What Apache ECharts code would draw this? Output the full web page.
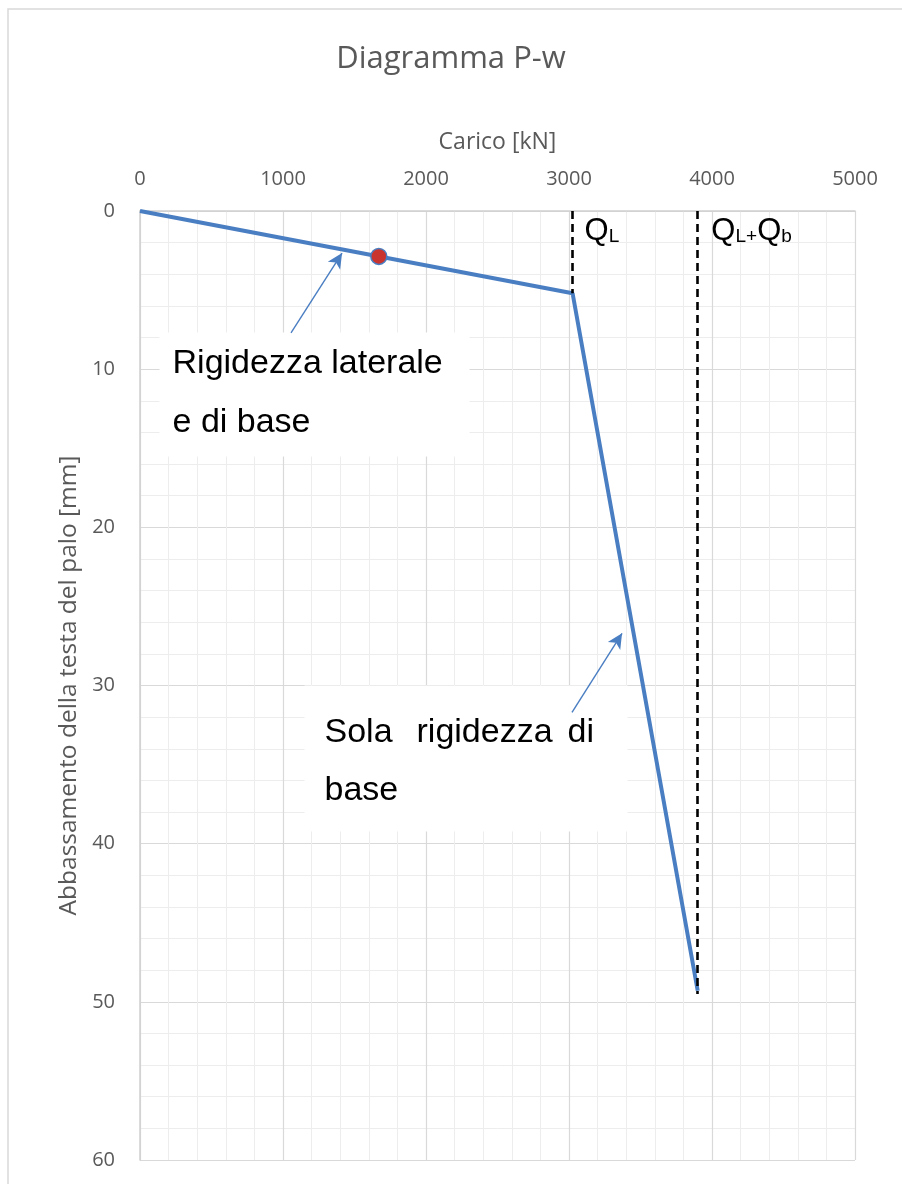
<!DOCTYPE html>
<html><head><meta charset="utf-8">
<script src="https://cdn.jsdelivr.net/npm/echarts@6/dist/echarts.min.js"></script>
<style>html,body{margin:0;padding:0;background:#fff}#c{width:902px;height:1184px}</style>
</head><body><div id="c"></div>
<script>
// ---- data ----
const titleText = 'Diagramma P-w';
const xAxisName = 'Carico [kN]';
const yAxisName = 'Abbassamento della testa del palo [mm]';
const loadKN = [0, 3025, 3900];
const settlementMM = [0, 5.2, 49.3];
const markerLoad = [1670];
const markerSettle = [2.87];
const QL = 3025;
const QLQb = 3900;
const qlLineEnd = 5.2;
const qlqbLineEnd = 49.5;
const arrow1 = [[1056, 7.7], [1413, 2.66]];
const arrow2 = [[3021, 31.7], [3371, 26.7]];
const noteAnchors = [[140, 7.71], [1154, 30.03]];
const qAnchors = [[3112, 1.3], [3999, 1.3]];

const blue = '#4A7EC2';
const axisFont = 'Open Sans';
const textFont = 'Liberation Sans';
const ink = '#000';

const chart = echarts.init(document.getElementById('c'), null, {renderer: 'canvas'});
const lineData = loadKN.map((v, i) => [v, settlementMM[i]]);
const markerData = markerLoad.map((v, i) => [v, markerSettle[i]]);

chart.setOption({
  animation: false,
  backgroundColor: '#fff',
  title: {
    text: titleText, left: 'center', top: 39,
    textStyle: {fontFamily: axisFont, fontSize: 31, fontWeight: 'normal', color: '#595959'}
  },
  graphic: [{
    type: 'rect', shape: {x: 8, y: 9, width: 1000, height: 1300},
    style: {fill: 'none', stroke: '#D9D9D9', lineWidth: 1.5}, silent: true, z: -1
  }],
  grid: {left: 140, right: 47, top: 211, bottom: 24, containLabel: false},
  xAxis: {
    type: 'value', position: 'top', min: 0, max: 5000, interval: 1000,
    name: xAxisName, nameLocation: 'middle', nameGap: 57,
    nameTextStyle: {fontFamily: axisFont, fontSize: 23, color: '#595959'},
    axisLine: {show: true, lineStyle: {color: '#D0D0D0', width: 1.5}},
    axisTick: {show: false},
    axisLabel: {fontFamily: axisFont, fontSize: 20, color: '#595959', margin: 22,
      formatter: v => String(v)},
    splitLine: {show: true, lineStyle: {color: '#D9D9D9', width: 1.2}},
    minorTick: {show: false, splitNumber: 5},
    minorSplitLine: {show: true, lineStyle: {color: '#EDEDED', width: 1}}
  },
  yAxis: {
    type: 'value', inverse: true, min: 0, max: 60, interval: 10,
    name: yAxisName, nameLocation: 'middle', nameGap: 58,
    nameTextStyle: {fontFamily: axisFont, fontSize: 24.5, color: '#595959'},
    axisLine: {show: true, lineStyle: {color: '#D0D0D0', width: 1.5}},
    axisTick: {show: false},
    axisLabel: {fontFamily: axisFont, fontSize: 20, color: '#595959', margin: 25,
      formatter: v => String(v)},
    splitLine: {show: true, lineStyle: {color: '#D9D9D9', width: 1.2}},
    minorTick: {show: false, splitNumber: 5},
    minorSplitLine: {show: true, lineStyle: {color: '#EDEDED', width: 1}}
  },
  series: [
    {
      type: 'scatter', name: 'notes', symbol: 'circle', symbolSize: 1,
      itemStyle: {color: 'rgba(0,0,0,0)', opacity: 1}, silent: true, z: 1,
      data: [
        {value: noteAnchors[0], label: {
          show: true, position: [0, 0], align: 'left', verticalAlign: 'top',
          formatter: 'Rigidezza laterale\ne di base',
          fontFamily: textFont, fontSize: 34, lineHeight: 59, color: ink, opacity: 1,
          backgroundColor: '#fff', padding: [2, 0, 4, 13], width: 297, height: 118
        }},
        {value: noteAnchors[1], label: {
          show: true, position: [0, 0], align: 'left', verticalAlign: 'top',
          formatter: '{a|Sola}{b|rigidezza}{c|di}\n{a|base}',
          backgroundColor: '#fff', padding: [18, 0, 12, 20], width: 303, height: 116, opacity: 1,
          rich: {
            a: {fontFamily: textFont, fontSize: 34, lineHeight: 58, color: ink, width: 92},
            b: {fontFamily: textFont, fontSize: 34, lineHeight: 58, color: ink, width: 151},
            c: {fontFamily: textFont, fontSize: 34, lineHeight: 58, color: ink}
          }
        }},
        {value: qAnchors[0], label: {
          show: true, position: [0, 0], align: 'left', verticalAlign: 'middle', opacity: 1,
          formatter: '{q|Q}{s|L}',
          rich: {
            q: {fontFamily: textFont, fontSize: 31, lineHeight: 31, color: ink},
            s: {fontFamily: textFont, fontSize: 19, lineHeight: 19, color: ink, verticalAlign: 'bottom'}
          }
        }},
        {value: qAnchors[1], label: {
          show: true, position: [0, 0], align: 'left', verticalAlign: 'middle', opacity: 1,
          formatter: '{q|Q}{s|L}{s|+}{q|Q}{s|b}',
          rich: {
            q: {fontFamily: textFont, fontSize: 31, lineHeight: 31, color: ink},
            s: {fontFamily: textFont, fontSize: 19, lineHeight: 19, color: ink, verticalAlign: 'bottom'}
          }
        }}
      ]
    },
    {
      type: 'line', name: 'dashed', data: [], z: 3, silent: true,
      markLine: {
        silent: true, symbol: ['none', 'none'], label: {show: false},
        lineStyle: {color: '#000', width: 2.6, type: [8, 5], opacity: 1},
        emphasis: {disabled: true},
        data: [
          [{coord: [QL, 0]}, {coord: [QL, qlLineEnd]}],
          [{coord: [QLQb, 0]}, {coord: [QLQb, qlqbLineEnd]}]
        ]
      }
    },
    {
      type: 'line', name: 'P-w', data: lineData, z: 4,
      symbol: 'none', lineStyle: {color: blue, width: 4}, silent: true
    },
    {
      type: 'scatter', name: 'point', data: markerData, z: 5,
      symbol: 'circle', symbolSize: 16,
      itemStyle: {color: '#C9352E', borderColor: blue, borderWidth: 1.5, opacity: 1}
    },
    {
      type: 'line', name: 'arrows', data: [], z: 4, silent: true,
      markLine: {
        silent: true, symbol: ['none', 'arrow'], symbolSize: [11, 15], label: {show: false},
        lineStyle: {color: blue, width: 1.4, type: 'solid', opacity: 1},
        emphasis: {disabled: true},
        data: [
          [{coord: arrow1[0]}, {coord: arrow1[1]}],
          [{coord: arrow2[0]}, {coord: arrow2[1]}]
        ]
      }
    }
  ]
});
</script>
</body></html>
